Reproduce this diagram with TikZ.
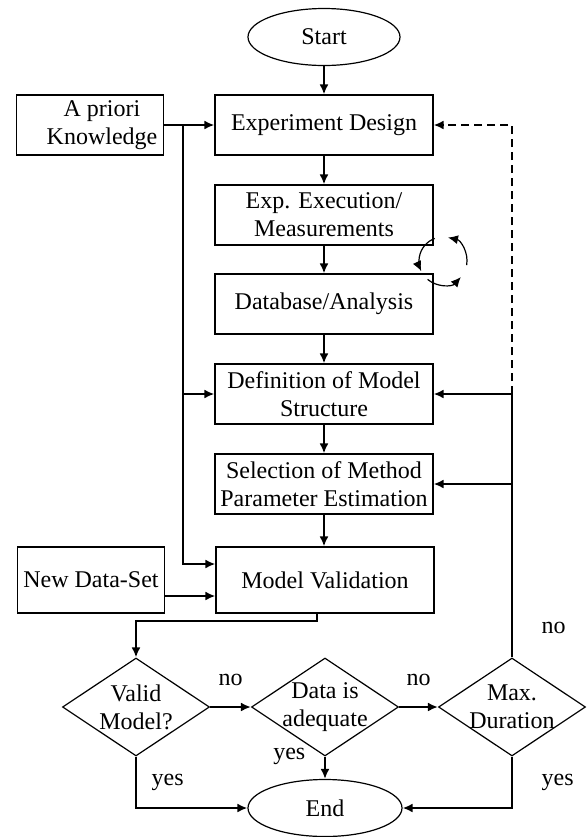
\documentclass[tikz,border=0pt]{standalone}
\usepackage{fontspec}
\setmainfont{Liberation Serif}
\usetikzlibrary{shapes.geometric,arrows.meta}

\begin{document}
\begin{tikzpicture}[x=0.5pt,y=-0.5pt,
  font=\fontsize{12pt}{14pt}\selectfont,
  box/.style={draw,line width=0.6pt,minimum width=109pt,minimum height=30pt,align=center,inner sep=2pt},
  sidebox/.style={box,minimum width=73.5pt},
  term/.style={draw,ellipse,line width=0.6pt,minimum width=76pt,minimum height=28.5pt,inner sep=1pt},
  decide/.style={draw,diamond,aspect=1.5,line width=0.6pt,minimum width=73.5pt,minimum height=49pt,inner sep=-6pt,align=center},
  arr/.style={line width=1pt,-{Latex[length=5pt,width=4.5pt]}},
  cycarr/.style={line width=0.6pt,-{Latex[length=5pt,width=4.5pt]}},
  plain/.style={line width=1pt}]
\useasboundingbox (0,0) rectangle (586,837);
\node[term] (start) at (324,37) {Start};
\node[box] (design) at (324,125) {Experiment Design};
\node[box] (exec) at (324,215) {Exp. Execution/\\Measurements};
\node[box] (dbase) at (324,304) {Database/Analysis};
\node[box] (defn) at (324,394) {Definition of Model\\Structure};
\node[box] (select) at (324,484) {Selection of Method\\Parameter Estimation};
\node[box,minimum height=33pt] (mval) at (325,580) {Model Validation};
\node[sidebox] (prior) at (90,125) {\hspace*{12pt}A priori\\\hspace*{12pt}Knowledge};
\node[sidebox,minimum height=33pt] (newset) at (91,580) {New Data-Set};
\node[decide] (validq) at (136,707) {Valid\\Model?};
\node[decide] (adeq) at (325,707) {Data is\\adequate};
\node[decide] (maxdur) at (512,707) {Max.\\Duration};
\node[term,minimum width=77pt] (stop) at (325,808) {End};

\draw[arr] (start) -- (design);
\draw[arr] (design) -- (exec);
\draw[arr] (exec) -- (dbase);
\draw[arr] (dbase) -- (defn);
\draw[arr] (defn) -- (select);
\draw[arr] (select.south) -- (select.south |- mval.north);

\coordinate (cyc) at (443,261);
\draw[cycarr] (cyc) ++(110:12pt) arc[start angle=110,end angle=205,radius=12pt];
\draw[cycarr] (cyc) ++(230:12pt) arc[start angle=230,end angle=318,radius=12pt];
\draw[cycarr] (cyc) ++(-10:12pt) arc[start angle=-10,end angle=78,radius=12pt];

\draw[arr] (prior.east) -- (design.west);
\coordinate (pk) at (183,125);
\coordinate (mvup) at ([yshift=8pt]mval.west);
\coordinate (mvlow) at ([yshift=-8pt]mval.west);
\draw[arr] (pk) |- (mvup);
\draw[arr] (pk |- defn.west) -- (defn.west);
\draw[arr] (newset.east |- mvlow) -- (mvlow);
\coordinate (mvout) at ([xshift=-4pt]mval.south);
\draw[arr] (mvout) -- ++(0,-3.5pt) -| (validq.north);

\draw[arr] (validq.east) -- node[above=7pt]{no} (adeq.west);
\draw[arr] (adeq.east) -- node[above=7pt]{no} (maxdur.west);
\draw[arr] (adeq.south) -- node[pos=0,left=6pt]{yes} (stop.north);
\draw[arr] (validq.south) |- node[pos=0.25,right=4pt]{yes} (stop.west);
\draw[arr] (maxdur.south) |- node[pos=0.25,right=11pt]{yes} (stop.east);

\coordinate (rt) at (maxdur.north |- defn.east);
\draw[plain] (maxdur.north) -- node[pos=0.11,right=11pt]{no} (rt);
\draw[arr] (rt) -- (defn.east);
\draw[arr] (rt |- select.east) -- (select.east);
\draw[arr,dash pattern=on 4pt off 2.5pt] (rt) |- (design.east);
\end{tikzpicture}
\end{document}
